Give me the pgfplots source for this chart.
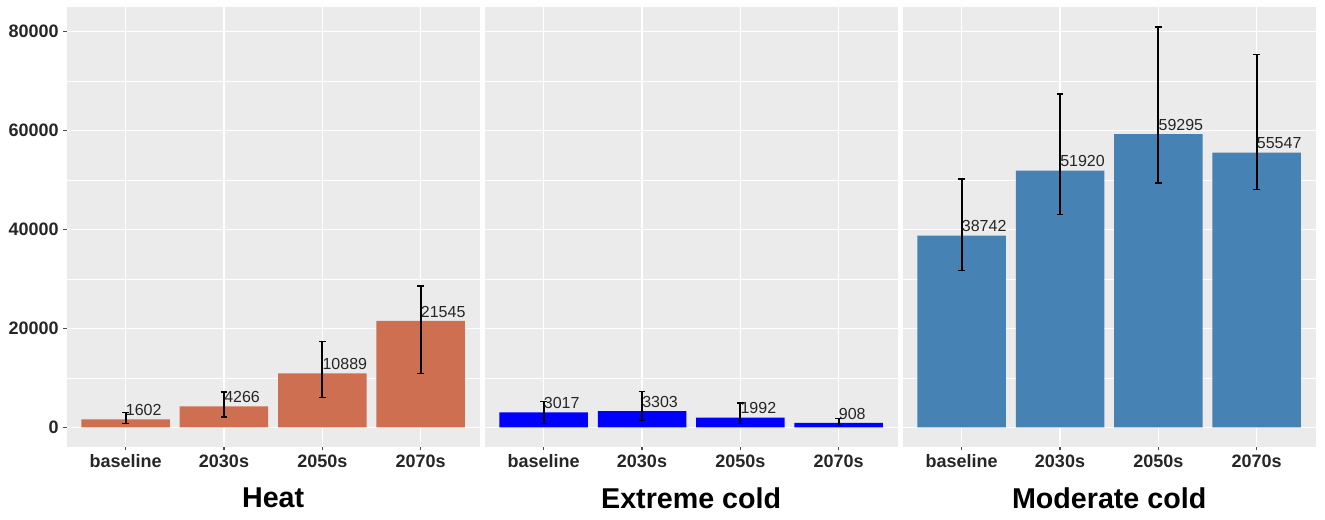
\documentclass[border=0pt]{standalone}
\usepackage{fontspec}
\setmainfont{Liberation Sans}
\usepackage{pgfplots}
\pgfplotsset{compat=1.18}
\usepackage{pgfplotstable}

\definecolor{ggbg}{RGB}{235,235,235}
\definecolor{heatc}{RGB}{207,111,82}
\definecolor{coldc}{RGB}{0,0,255}
\definecolor{steel}{RGB}{70,130,180}

\pgfplotstableread{
x y lo hi
0 1602 800 3030
1 4266 2080 7130
2 10889 6000 17300
3 21545 10900 28550
}\heat
\pgfplotstableread{
x y lo hi
0 3017 800 5250
1 3303 1400 7200
2 1992 800 4900
3 908 400 1800
}\xcold
\pgfplotstableread{
x y lo hi
0 38742 31700 50200
1 51920 43000 67400
2 59295 49400 80900
3 55547 48100 75300
}\mcold

\pgfplotsset{
 ggpanel/.style={
  scale only axis, width=309.75pt, height=329.6pt,
  xmin=-0.6, xmax=3.6, ymin=-3900, ymax=84930,
  axis background/.style={fill=ggbg},
  axis line style={draw=none},
  xtick={0,1,2,3}, xticklabels={baseline,2030s,2050s,2070s},
  ytick={0,20000,40000,60000,80000},
  minor ytick={10000,30000,50000,70000},
  grid=both,
  major grid style={white, line width=1.1pt},
  minor grid style={white, line width=0.55pt},
  tick pos=left, tick align=outside,
  major tick length=2.5pt, minor tick length=0pt,
  tick style={color=black!70, line width=0.8pt},
  ticklabel style={font=\fontsize{13.5}{16}\selectfont\bfseries, text=black!85},
  /pgf/number format/assume math mode=true,
  /pgf/number format/1000 sep={},
  scaled y ticks=false,
  every axis x label/.style={at={(axis description cs:0.5,0)}, anchor=center, yshift=-38.5pt, font=\fontsize{21.5}{25}\selectfont\bfseries},
  clip=false,
 },
 ggbar/.style={
  ybar, bar width=0.9, fill=#1, draw=none,
  point meta=explicit symbolic,
  nodes near coords,
  every node near coord/.append style={anchor=south west, inner xsep=0pt, inner ysep=2.5pt, font=\fontsize{12}{14}\selectfont, text=black!85},
  error bars/.cd, y dir=both, y explicit,
  error bar style={line width=1.3pt, black},
  error mark options={rotate=90, mark size=2.5pt, line width=1pt, black},
 },
}

\begin{document}
\begin{tikzpicture}
\useasboundingbox (-50pt,-55pt) rectangle ++(993.75pt,390pt);
\begin{axis}[ggpanel, name=p1, xlabel={Heat}]
\addplot[ggbar=heatc] table[x=x, y=y, meta=y, y error plus expr=\thisrow{hi}-\thisrow{y}, y error minus expr=\thisrow{y}-\thisrow{lo}] {\heat};
\end{axis}
\begin{axis}[ggpanel, name=p2, at={(313.5pt,0pt)}, anchor=south west, xlabel={Extreme cold}, yticklabels={}, ytick style={draw=none}]
\addplot[ggbar=coldc] table[x=x, y=y, meta=y, y error plus expr=\thisrow{hi}-\thisrow{y}, y error minus expr=\thisrow{y}-\thisrow{lo}] {\xcold};
\end{axis}
\begin{axis}[ggpanel, name=p3, at={(627pt,0pt)}, anchor=south west, xlabel={Moderate cold}, yticklabels={}, ytick style={draw=none}]
\addplot[ggbar=steel] table[x=x, y=y, meta=y, y error plus expr=\thisrow{hi}-\thisrow{y}, y error minus expr=\thisrow{y}-\thisrow{lo}] {\mcold};
\end{axis}
\end{tikzpicture}
\end{document}
